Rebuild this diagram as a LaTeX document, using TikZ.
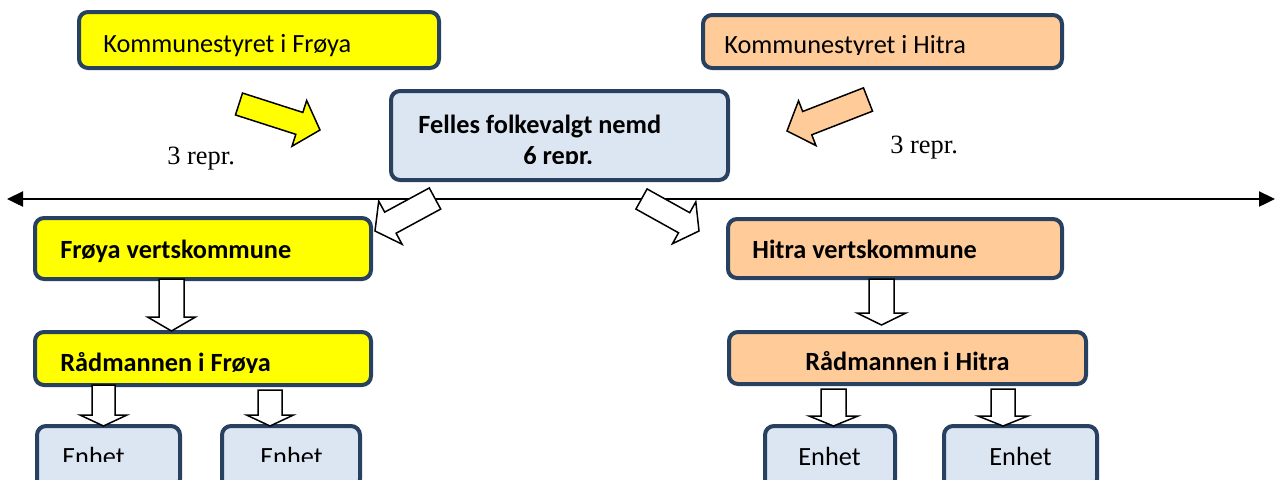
\documentclass[tikz,border=0pt]{standalone}
\usepackage{fontspec}
\setmainfont{Liberation Serif}
\newfontfamily\carlito{Carlito}
\usetikzlibrary{calc,arrows.meta}
\definecolor{bord}{RGB}{40,65,97}
\definecolor{peach}{RGB}{255,204,153}
\definecolor{lblue}{RGB}{220,230,242}
\definecolor{yel}{RGB}{255,255,0}
% #1 style, #2 tail, #3 tip, #4 shaft half width, #5 head half width, #6 head length
\newcommand\blockarrow[6]{%
  \coordinate (bah) at ($(#3)!#6!(#2)$);
  \draw[#1] ($(#2)!#4!90:(#3)$) -- ($(bah)!#4!90:(#3)$) -- ($(bah)!#5!90:(#3)$) -- (#3)
    -- ($(bah)!#5!-90:(#3)$) -- ($(bah)!#4!-90:(#3)$) -- ($(#2)!#4!-90:(#3)$) -- cycle;
}
\begin{document}
\begin{tikzpicture}[x=0.5pt,y=-0.5pt,
  box/.style={draw=bord,line width=2pt,rounded corners=4.5pt,inner sep=0pt},
  lbl/.style={anchor=base west,inner sep=0pt,font=\carlito\fontsize{13.15pt}{16pt}\selectfont},
  blbl/.style={anchor=base west,inner sep=0pt,font=\carlito\bfseries\fontsize{13.15pt}{16pt}\selectfont},
  slbl/.style={anchor=base west,inner sep=0pt,font=\fontsize{13.2pt}{16pt}\selectfont},
  barr/.style={draw=black,line width=0.75pt,line join=miter}]
\useasboundingbox (0,0) rectangle (1276,479);
\clip (0,0) rectangle (1276,479);

% boxes
\node[box,fill=yel,minimum width=180pt,minimum height=28pt] (kf) at (259,40) {};
\node[box,fill=peach,minimum width=179.5pt,minimum height=26.5pt] (kh) at (882.5,41.5) {};
\node[box,fill=lblue,minimum width=168.5pt,minimum height=44.5pt] (fn) at (559.5,135.5) {};
\node[box,fill=yel,minimum width=168pt,minimum height=30.5pt] (fv) at (203,248.5) {};
\node[box,fill=peach,minimum width=167pt,minimum height=29.5pt] (hv) at (895,248.5) {};
\node[box,fill=yel,minimum width=168pt,minimum height=26.5pt] (rf) at (203,358.5) {};
\node[box,fill=peach,minimum width=178.5pt,minimum height=26pt] (rh) at (907.5,358) {};
\node[box,fill=lblue,minimum width=71.5pt,minimum height=31pt] (ef1) at (108.5,457) {};
\node[box,fill=lblue,minimum width=69pt,minimum height=31pt] (ef2) at (291,457) {};
\node[box,fill=lblue,minimum width=65pt,minimum height=31pt] (eh1) at (830,457) {};
\node[box,fill=lblue,minimum width=76.5pt,minimum height=31pt] (eh2) at (1020.5,457) {};

% texts
\node[lbl] (tkf) at (103,52) {Kommunestyret i Frøya};
\begin{scope}
  \clip (701,13) rectangle (1064,54.5);
  \node[lbl] (tkh) at (724,53) {Kommunestyret i Hitra};
\end{scope}
\node[blbl] (tfn1) at (418,133) {Felles folkevalgt nemd};
\begin{scope}
  \clip (389,89) rectangle (730,163.5);
  \node[blbl] (tfn2) at (523,164.5) {6 repr.};
\end{scope}
\node[slbl] (tr1) at (167,164) {3 repr.};
\node[slbl] (tr2) at (890,153.5) {3 repr.};
\node[blbl] (tfv) at (60,258) {Frøya vertskommune};
\node[blbl] (thv) at (752,258) {Hitra vertskommune};
\begin{scope}
  \clip (33,330) rectangle (373,372);
  \node[blbl] (trf) at (60,371) {Rådmannen i Frøya};
\end{scope}
\node[blbl] (trh) at (805,370) {Rådmannen i Hitra};
\begin{scope}
  \clip (30,424) rectangle (370,461.5);
  \node[lbl] (tef1) at (62,465) {Enhet};
  \node[lbl] (tef2) at (260,465) {Enhet};
\end{scope}
\node[lbl] (teh1) at (798,465) {Enhet};
\node[lbl] (teh2) at (989,465) {Enhet};

% horizontal double arrow
\coordinate (hl) at (7,199);
\coordinate (hr) at (1275,199);
\draw[line width=1.2pt,{Triangle[length=8pt,width=7.5pt]}-{Triangle[length=8pt,width=7.5pt]}] (hl) -- (hr);

% block arrows
\coordinate (ayt) at (239,104);   \coordinate (ayp) at (320,130);
\coordinate (apt) at (868,99.5);  \coordinate (app) at (787,131);
\coordinate (awlt) at (435,198.5); \coordinate (awlp) at (375,231);
\coordinate (awrt) at (641.5,199); \coordinate (awrp) at (699,231);
\coordinate (avft) at (171.5,279); \coordinate (avfp) at (171.5,331);
\coordinate (avht) at (881.5,279); \coordinate (avhp) at (881.5,325);
\coordinate (asf1t) at (103.5,385); \coordinate (asf1p) at (103.5,426);
\coordinate (asf2t) at (270,390);  \coordinate (asf2p) at (270,426);
\coordinate (ash1t) at (833.5,389); \coordinate (ash1p) at (833.5,426);
\coordinate (ash2t) at (1003,389); \coordinate (ash2p) at (1003,426);

\blockarrow{barr,fill=yel}{ayt}{ayp}{5.75pt}{12pt}{10.85pt}
\blockarrow{barr,fill=peach}{apt}{app}{6.25pt}{12pt}{10.85pt}
\blockarrow{barr,fill=white}{awlt}{awlp}{6pt}{12.25pt}{8.75pt}
\blockarrow{barr,fill=white}{awrt}{awrp}{5.75pt}{12pt}{8.5pt}
\blockarrow{barr,fill=white}{avft}{avfp}{6.25pt}{12pt}{7pt}
\blockarrow{barr,fill=white}{avht}{avhp}{6.25pt}{12.25pt}{6pt}
\blockarrow{barr,fill=white}{asf1t}{asf1p}{5.75pt}{11.75pt}{5.5pt}
\blockarrow{barr,fill=white}{asf2t}{asf2p}{6pt}{11.75pt}{5.5pt}
\blockarrow{barr,fill=white}{ash1t}{ash1p}{6.25pt}{12.25pt}{5pt}
\blockarrow{barr,fill=white}{ash2t}{ash2p}{6pt}{12.5pt}{5pt}
\end{tikzpicture}
\end{document}
